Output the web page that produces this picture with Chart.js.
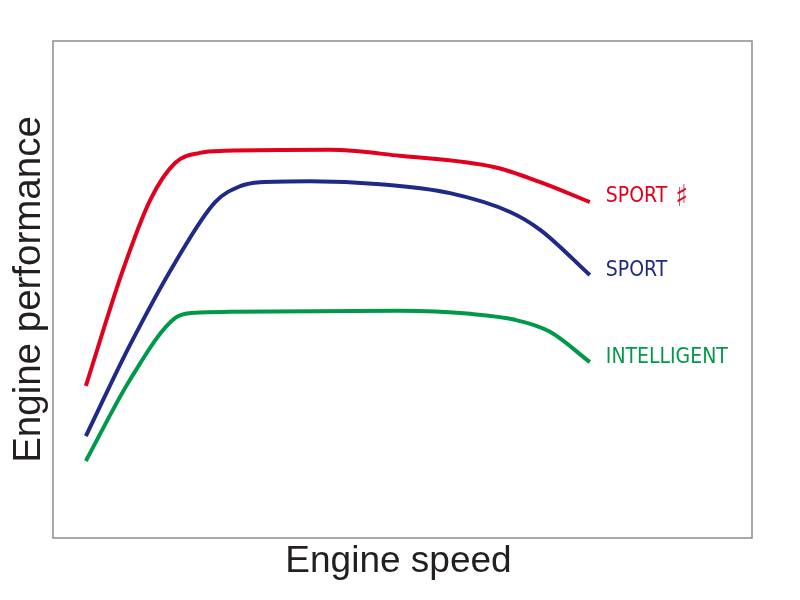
<!DOCTYPE html>
<html>
<head>
<meta charset="utf-8">
<script src="https://cdn.jsdelivr.net/npm/chart.js@4"></script>
<style>
  html, body { margin: 0; padding: 0; background: #fff; }
  #wrap { width: 800px; height: 600px; }
</style>
</head>
<body>
<div id="wrap"><canvas id="chart" width="800" height="600"></canvas></div>
<script>
// engine speed (0-100) vs performance (0-100)
const sportSharpX = [4.7, 9.9, 13.9, 17.5, 21.0, 24.6, 39.6, 49.6, 63.2, 69.7, 76.8];
const sportSharpY = [30.6, 53.5, 68.0, 75.5, 77.5, 77.9, 78.1, 76.9, 74.6, 71.6, 67.6];
const sportX = [4.7, 11.0, 17.5, 23.2, 26.8, 29.6, 36.8, 46.8, 56.8, 65.4, 69.7, 76.8];
const sportY = [20.5, 38.8, 55.5, 67.6, 70.8, 71.6, 71.8, 71.2, 69.4, 65.6, 62.0, 52.9];
const intelX = [4.7, 11.0, 17.5, 20.3, 25.3, 49.6, 59.7, 66.1, 71.1, 76.8];
const intelY = [15.5, 31.8, 44.3, 45.3, 45.5, 45.7, 45.1, 43.9, 41.5, 35.4];

const seriesNames = ['SPORT ♯', 'SPORT', 'INTELLIGENT'];
const colors = ['#e1001e', '#1f2a86', '#00994a'];

const pts = (xs, ys) => xs.map((x, i) => ({ x, y: ys[i] }));

const labelFont = '"DejaVu Sans Condensed", Roboto, sans-serif';
const titleFont = '"Liberation Sans", Arial, sans-serif';

const frame = {
  id: 'frame',
  afterDraw(chart) {
    const { ctx, chartArea: a } = chart;
    ctx.save();
    ctx.strokeStyle = '#8c8c8c';
    ctx.lineWidth = 1.5;
    ctx.strokeRect(a.left, a.top, a.right - a.left, a.bottom - a.top);

    // end labels (the sharp sign is drawn a bit larger, like the original)
    ctx.textBaseline = 'middle';
    ctx.textAlign = 'left';
    chart.data.datasets.forEach((ds, i) => {
      const meta = chart.getDatasetMeta(i);
      const last = meta.data[meta.data.length - 1];
      const name = seriesNames[i];
      const x = last.x + 16, y = last.y - 5;
      ctx.fillStyle = colors[i];
      ctx.font = '21px ' + labelFont;
      if (name.endsWith('♯')) {
        const head = name.slice(0, -1);
        ctx.fillText(head, x, y);
        const w = ctx.measureText(head).width;
        ctx.font = '30px ' + labelFont;
        ctx.fillText('♯', x + w + 2, y + 1);
      } else {
        ctx.fillText(name, x, y);
      }
    });

    // axis titles
    ctx.fillStyle = '#231f20';
    ctx.textAlign = 'center';
    ctx.textBaseline = 'alphabetic';
    ctx.font = '37px ' + titleFont;
    ctx.fillText('Engine speed', (a.left + a.right) / 2 - 4, 572);
    ctx.font = '38.5px ' + titleFont;
    ctx.translate(40, (a.top + a.bottom) / 2 + 0);
    ctx.rotate(-Math.PI / 2);
    ctx.fillText('Engine performance', 0, 0);
    ctx.restore();
  }
};

new Chart(document.getElementById('chart'), {
  type: 'line',
  data: {
    datasets: [
      { label: seriesNames[0], data: pts(sportSharpX, sportSharpY), borderColor: colors[0] },
      { label: seriesNames[1], data: pts(sportX, sportY), borderColor: colors[1] },
      { label: seriesNames[2], data: pts(intelX, intelY), borderColor: colors[2] },
    ].map((d) => ({ ...d, borderWidth: 4, pointRadius: 0, fill: false, cubicInterpolationMode: 'monotone' })),
  },
  options: {
    responsive: false,
    animation: false,
    layout: { padding: { left: 53, right: 48, top: 41, bottom: 62 } },
    plugins: { legend: { display: false }, tooltip: { enabled: false } },
    scales: {
      x: { type: 'linear', min: 0, max: 100, display: false },
      y: { min: 0, max: 100, display: false },
    },
  },
  plugins: [frame],
});
</script>
</body>
</html>
